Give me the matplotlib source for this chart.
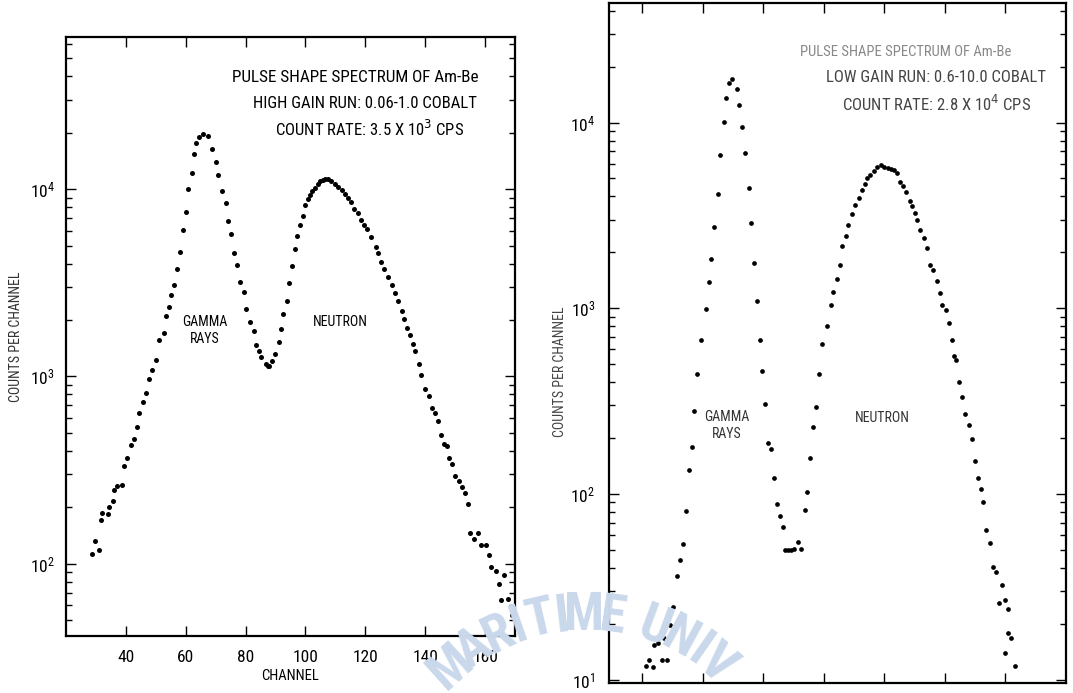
import numpy as np
import matplotlib
matplotlib.use("Agg")
import matplotlib.pyplot as plt

FAMILIES = ['Roboto Condensed', 'DejaVu Sans Condensed', 'Liberation Sans Narrow', 'DejaVu Sans']
plt.rcParams['font.family'] = FAMILIES

# high gain run (left panel)
left_ch = [28.6, 29.8, 30.9, 31.7, 32.1, 34.0, 34.4, 35.8, 36.2, 37.1, 38.6, 39.5,
           40.5, 41.6, 42.7, 43.6, 44.4, 45.6, 46.6, 47.7, 48.8, 50.2, 51.0, 52.6,
           53.4, 54.3, 55.1, 56.0, 57.1, 58.1, 59.0, 60.0, 60.9, 62.0, 62.7, 63.5,
           64.4, 65.8, 67.3, 68.8, 70.2, 70.9, 72.0, 73.3, 74.0, 75.1, 76.0, 77.2,
           78.1, 79.3, 80.3, 81.6, 82.8, 83.5, 84.4, 85.3, 86.8, 87.4, 87.9, 88.8,
           89.9, 91.2, 91.8, 92.6, 93.8, 94.4, 95.4, 96.6, 97.3, 98.2, 99.3, 100.0,
           100.9, 101.6, 102.3, 103.2, 104.2, 105.0, 105.7, 106.5, 107.4, 108.6,
           109.8, 110.9, 112.1, 113.3, 114.2, 115.3, 116.3, 117.4, 118.6, 119.5,
           120.7, 122.0, 123.4, 124.1, 125.3, 126.4, 127.7, 128.8, 129.9, 130.8,
           132.2, 133.0, 133.8, 134.9, 136.0, 136.7, 137.9, 138.6, 140.1, 141.2,
           142.2, 143.3, 144.2, 145.2, 146.2, 147.3, 148.0, 149.1, 150.0, 151.3,
           152.4, 153.3, 154.4, 155.1, 156.4, 157.6, 158.8, 160.4, 161.3, 161.9,
           163.6, 164.5, 165.4, 166.4, 167.7, 169.1]
left_counts = [113, 132, 118, 170, 186, 183, 200, 215, 247, 261, 263, 331,
               366, 429, 462, 535, 637, 726, 815, 963, 1082, 1230, 1560, 1700,
               2104, 2344, 2731, 3090, 3753, 4613, 6063, 7580, 9960, 12240, 15450, 17630,
               19060, 19780, 19280, 16290, 13970, 11850, 9800, 8440, 6720, 5750, 4580, 3910,
               3180, 2810, 2290, 1940, 1745, 1468, 1364, 1273, 1170, 1132, 1142, 1205,
               1310, 1524, 1801, 2153, 2520, 3162, 3873, 4764, 5598, 6442, 7200, 8250,
               8890, 9340, 9750, 10150, 10660, 11030, 11140, 11370, 11280, 10990,
               10680, 10250, 9840, 9440, 8980, 8510, 7840, 7460, 6870, 6430,
               6110, 5580, 4930, 4580, 4100, 3755, 3400, 3090, 2785, 2512,
               2221, 2030, 1807, 1663, 1486, 1364, 1162, 1017, 860, 785,
               681, 635, 577, 484, 436, 426, 366, 342, 292, 277,
               255, 239, 207, 146, 135, 146, 126, 126, 111, 96,
               91, 78, 64, 87, 65, 53]

# low gain run (right panel)
right_ch = [41.1, 42.3, 43.6, 44.0, 45.3, 46.5, 47.3, 48.3, 49.3, 50.3, 51.4, 52.3,
            53.4, 54.4, 55.3, 56.4, 57.2, 58.1, 59.4, 61.0, 62.0, 62.8, 63.8, 65.1,
            65.7, 66.9, 67.8, 68.8, 69.8, 71.3, 71.8, 73.1, 74.1, 75.2, 76.0, 77.0,
            78.0, 78.9, 79.7, 80.4, 81.5, 82.4, 83.6, 84.4, 85.6, 86.4, 87.3, 88.3,
            89.2, 90.1, 91.4, 92.5, 93.6, 94.4, 95.3, 96.3, 97.5, 98.4, 99.5, 101.0,
            102.2, 103.1, 104.2, 105.2, 106.0, 107.2, 108.0, 109.4, 110.2, 111.6,
            112.6, 113.6, 114.1, 115.3, 116.6, 117.7, 118.9, 120.0, 121.1, 122.3,
            123.2, 124.1, 125.0, 126.0, 127.0, 128.3, 129.2, 130.1, 130.9, 131.9,
            133.1, 134.1, 135.1, 136.1, 137.4, 138.3, 139.1, 140.3, 141.2, 142.4,
            143.1, 143.8, 144.5, 145.7, 146.6, 147.8, 149.0, 149.8, 150.8, 151.9,
            152.7, 153.6, 154.8, 155.8, 156.9, 158.0, 158.9, 159.9, 160.7, 160.8,
            161.7, 159.9, 163.1]
right_counts = [11.8, 12.7, 11.7, 15.4, 15.7, 12.7, 16.8, 12.7, 19.7, 24.7, 36.1, 44.0,
                53.5, 80.6, 135, 179, 279, 440, 674, 991, 1376, 1833, 2729, 4100,
                6660, 10080, 13500, 16260, 17150, 15140, 12410, 9510, 6820, 4440, 2870, 1750,
                1090, 674, 458, 305, 189, 174, 122, 88.3, 76.4, 66.4, 49.8, 50.0,
                50.0, 50.4, 54.8, 50.8, 81.7, 102, 156, 229, 294, 443, 641, 804,
                1043, 1225, 1442, 1715, 2172, 2439, 2797, 3197, 3590, 3935,
                4328, 4645, 5003, 5193, 5483, 5783, 5878, 5783, 5663, 5597,
                5525, 5370, 4800, 4548, 4220, 3787, 3545, 3265, 2980, 2653,
                2390, 2103, 1703, 1612, 1399, 1205, 1043, 979, 829, 674,
                551, 524, 402, 333, 271, 234, 197, 150, 122, 106,
                90.2, 63.9, 54.3, 40.3, 38.2, 26.0, 32.4, 27.0, 24.0, 17.9,
                16.8, 13.9, 11.9]

channel_ticks = [40, 60, 80, 100, 120, 140, 160]

W, H = 1073, 693
fig = plt.figure(figsize=(W / 100, H / 100), dpi=100)


def px_box(x0, y0, x1, y1):
    return [x0 / W, 1 - y1 / H, (x1 - x0) / W, (y1 - y0) / H]


def style_axes(ax, ypad):
    ax.set_yscale('log')
    ax.set_xticks(channel_ticks)
    ax.tick_params(which='both', direction='in', top=True, right=True, width=1.0)
    ax.tick_params(which='major', length=7)
    ax.tick_params(which='minor', length=4)
    ax.tick_params(axis='x', labelsize=12.5, pad=10)
    ax.tick_params(axis='y', labelsize=12.5, pad=ypad)
    for s in ax.spines.values():
        s.set_linewidth(1.6)


ax1 = fig.add_axes(px_box(66, 37, 515, 636))
ax1.plot(left_ch, left_counts, 'o', color='black', ms=3.6, mec='none')
style_axes(ax1, 8)
ax1.set_xlim(20, 170)
ax1.set_ylim(41, 65000)
ax1.set_xlabel('CHANNEL', fontsize=10.5, labelpad=3)
ax1.set_ylabel('COUNTS PER CHANNEL', fontsize=10, color='#333333')
ax1.yaxis.set_label_coords(-0.095, 0.5)
ax1.text(0.37, 0.932, 'PULSE SHAPE SPECTRUM OF Am-Be', transform=ax1.transAxes,
         fontsize=12.3, va='center')
ax1.text(0.416, 0.889, 'HIGH GAIN RUN: 0.06-1.0 COBALT', transform=ax1.transAxes,
         fontsize=12, va='center')
ax1.text(0.465, 0.846, r'COUNT RATE: 3.5 X 10$^3$ CPS', transform=ax1.transAxes,
         fontsize=12, va='center')
ax1.text(0.31, 0.51, 'GAMMA\nRAYS', transform=ax1.transAxes, fontsize=10,
         ha='center', va='center', linespacing=1.3)
ax1.text(0.61, 0.525, 'NEUTRON', transform=ax1.transAxes, fontsize=10,
         ha='center', va='center')

ax2 = fig.add_axes(px_box(609, 3, 1066, 683))
ax2.plot(right_ch, right_counts, 'o', color='black', ms=3.4, mec='none')
style_axes(ax2, 10)
ax2.set_xlim(29, 180)
ax2.set_ylim(9.6, 44000)
ax2.tick_params(axis='x', pad=8, labelcolor='#555555')
ax2.set_ylabel('COUNTS PER CHANNEL', fontsize=10, color='#444444')
ax2.yaxis.set_label_coords(-0.092, 0.457)
ax2.text(0.418, 0.928, 'PULSE SHAPE SPECTRUM OF Am-Be', transform=ax2.transAxes,
         fontsize=10.5, va='center', color='#888888')
ax2.text(0.475, 0.891, 'LOW GAIN RUN: 0.6-10.0 COBALT', transform=ax2.transAxes,
         fontsize=12, va='center', color='#444444')
ax2.text(0.510, 0.851, r'COUNT RATE: 2.8 X 10$^4$ CPS', transform=ax2.transAxes,
         fontsize=12, va='center', color='#444444')
ax2.text(0.258, 0.379, 'GAMMA\nRAYS', transform=ax2.transAxes, fontsize=10,
         ha='center', va='center', linespacing=1.3, color='#333333')
ax2.text(0.597, 0.390, 'NEUTRON', transform=ax2.transAxes, fontsize=10,
         ha='center', va='center', color='#333333')

# faint library seal watermark across the bottom
seal = 'MARITIME UNIV'
widths = {'I': 0.55, ' ': 0.5}
cx, cy, r = 585, 815, 200
theta = 132.0
for i, ch in enumerate(seal):
    if i > 0:
        theta -= 8.2 * (widths.get(seal[i - 1], 1.0) + widths.get(ch, 1.0)) / 2
    t = np.radians(theta)
    x = cx + r * np.cos(t)
    y = cy - r * np.sin(t)
    fig.text(x / W, 1 - y / H, ch, fontsize=38, fontweight='bold', color='#cad8ec',
             ha='center', va='center', rotation=theta - 90, zorder=0, family=FAMILIES)

fig.savefig('out.png', dpi=100)
